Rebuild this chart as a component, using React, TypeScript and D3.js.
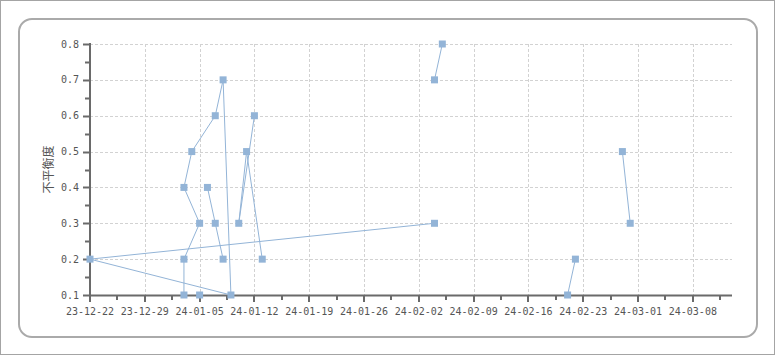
import React from "react";
import * as d3 from "d3";

// ---- data ----
const pointDates = [
  "2024-02-04", "2023-12-22", "2024-01-09", "2024-01-08", "2024-01-07", "2024-01-04", "2024-01-03", "2024-01-05", "2024-01-03", "2024-01-03",
  "2024-01-06", "2024-01-07", "2024-01-08",
  "2024-01-12", "2024-01-10", "2024-01-11", "2024-01-13",
  "2024-02-04", "2024-02-05",
  "2024-02-21", "2024-02-22",
  "2024-02-28", "2024-02-29",
  "2024-01-05",
];
const pointValues = [
  0.3, 0.2, 0.1, 0.7, 0.6, 0.5, 0.4, 0.3, 0.2, 0.1,
  0.4, 0.3, 0.2,
  0.6, 0.3, 0.5, 0.2,
  0.7, 0.8,
  0.1, 0.2,
  0.5, 0.3,
  0.1,
];
const pointGroups = [
  0, 0, 0, 0, 0, 0, 0, 0, 0, 0,
  1, 1, 1,
  2, 2, 2, 2,
  3, 3,
  4, 4,
  5, 5,
  6,
];
const xDomain = ["2023-12-22", "2024-03-13"];
const yTickValues = [0.1, 0.2, 0.3, 0.4, 0.5, 0.6, 0.7, 0.8];
const yTitle = "不平衡度";

const W = 775;
const H = 355;
const COLOR = "#93b4d7";
const AXIS = "#6a6a6a";
const TEXT = "#555555";
const GRID = "#d2d2d2";
const MONO = "'DejaVu Sans Mono', 'Liberation Mono', monospace";

export default function App() {
  const parse = d3.utcParse("%Y-%m-%d");
  const x = d3.scaleUtc().domain(xDomain.map((d) => parse(d) as Date)).range([90, 732]);
  const y = d3.scaleLinear().domain([0.1, 0.8]).range([295, 44]);

  const [x0, x1] = x.domain();
  const majorX = d3.utcDay.range(x0, x1, 7);
  const minorX = d3.utcHour.range(x0, x1, 84).filter((_, i) => i % 2 === 1);
  const fmtX = d3.utcFormat("%y-%m-%d");
  const fmtY = d3.format(".1f");
  const minorY = yTickValues.slice(1).map((v) => v - 0.05);

  const pts = pointDates.map((d, i) => ({
    date: parse(d) as Date,
    value: pointValues[i],
    group: pointGroups[i],
  }));
  const groups = d3.groups(pts, (p) => p.group).map((g) => g[1]);
  const line = d3
    .line<{ date: Date; value: number }>()
    .x((p) => x(p.date))
    .y((p) => y(p.value));

  const xr = x.range();
  return (
    <svg
      width={W}
      height={H}
      style={{ position: "absolute", left: 0, top: 0, background: "#fff" }}
    >
      <rect x={0.5} y={0.5} width={W - 1} height={H - 1} fill="#fff" stroke="#a4a4a4" />
      <rect x={19} y={19} width={738} height={318} rx={13} ry={13} fill="#fff" stroke="#aaaaaa" strokeWidth={2} />

      {/* grid */}
      <g stroke={GRID} strokeDasharray="3,2" strokeWidth={1}>
        {yTickValues.slice(1).map((v) => (
          <line key={"gy" + v} x1={xr[0]} x2={xr[1]} y1={Math.round(y(v)) + 0.5} y2={Math.round(y(v)) + 0.5} />
        ))}
        {majorX.slice(1).map((d) => (
          <line key={"gx" + +d} x1={Math.round(x(d)) + 0.5} x2={Math.round(x(d)) + 0.5} y1={44} y2={295} />
        ))}
      </g>

      {/* axes */}
      <g stroke={AXIS} strokeWidth={2}>
        <line x1={90} x2={90} y1={43} y2={296} />
        <line x1={89} x2={xr[1]} y1={295.5} y2={295.5} />
        {yTickValues.map((v) => (
          <line key={"ty" + v} x1={83} x2={90} y1={Math.round(y(v)) + 0.5} y2={Math.round(y(v)) + 0.5} />
        ))}
        {minorY.map((v) => (
          <line key={"my" + v} x1={85} x2={90} y1={Math.round(y(v)) + 0.5} y2={Math.round(y(v)) + 0.5} />
        ))}
        {majorX.map((d) => (
          <line key={"tx" + +d} x1={Math.round(x(d))} x2={Math.round(x(d))} y1={295} y2={302} />
        ))}
        {minorX.map((d) => (
          <line key={"mx" + +d} x1={Math.round(x(d))} x2={Math.round(x(d))} y1={295} y2={300} />
        ))}
      </g>

      {/* labels */}
      <g fill={TEXT} fontFamily={MONO} fontSize={10}>
        {yTickValues.map((v) => (
          <text key={"ly" + v} x={79} y={y(v) + 3.5} textAnchor="end">
            {fmtY(v)}
          </text>
        ))}
        {majorX.map((d) => (
          <text key={"lx" + +d} x={x(d)} y={315} textAnchor="middle">
            {fmtX(d)}
          </text>
        ))}
      </g>
      <text
        transform={`translate(53,${(y(0.1) + y(0.8)) / 2}) rotate(-90)`}
        textAnchor="middle"
        fontFamily="'Noto Sans CJK SC', sans-serif"
        fontSize={12}
        fill={TEXT}
      >
        {yTitle}
      </text>

      {/* series */}
      <g fill="none" stroke={COLOR} strokeWidth={1}>
        {groups.map((g, i) => (
          <path key={"l" + i} d={line(g) || ""} />
        ))}
      </g>
      <g fill={COLOR}>
        {pts.map((p, i) => (
          <rect key={"p" + i} x={x(p.date) - 3.5} y={y(p.value) - 3.5} width={7} height={7} />
        ))}
      </g>
    </svg>
  );
}
